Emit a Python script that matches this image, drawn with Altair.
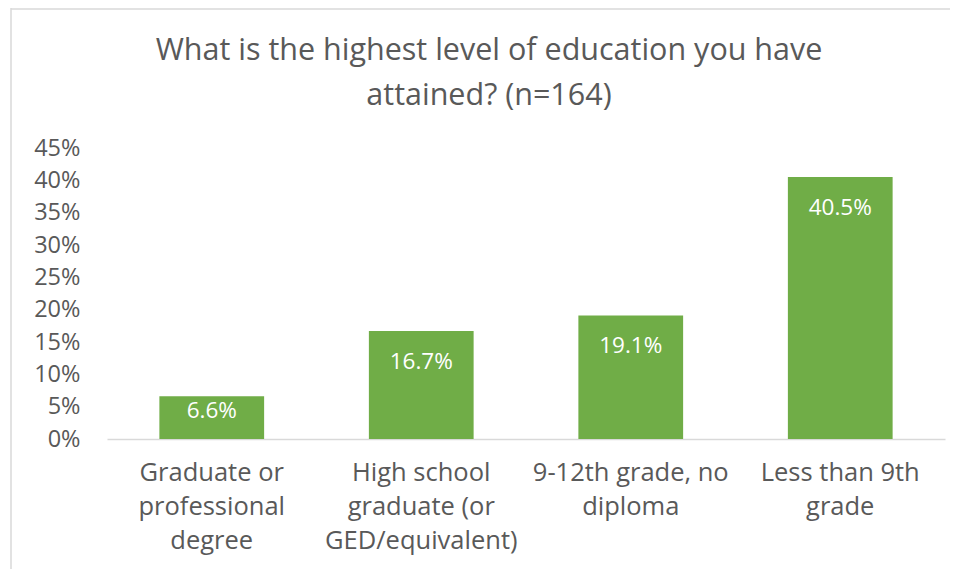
import altair as alt
import pandas as pd

categories = ["Graduate or\nprofessional\ndegree",
              "High school\ngraduate (or\nGED/equivalent)",
              "9-12th grade, no\ndiploma",
              "Less than 9th\ngrade"]
values = [0.066, 0.167, 0.191, 0.405]
y_ticks = [0, 0.05, 0.10, 0.15, 0.20, 0.25, 0.30, 0.35, 0.40, 0.45]
title_lines = ["What is the highest level of education you have", "attained? (n=164)"]

df = pd.DataFrame({"cat": categories, "v": values})
df["lbl"] = [f"{v*100:.1f}%" for v in values]

FONT = "Open Sans"
GRAY = "#595959"

x = alt.X("cat:N", sort=categories, title=None,
          scale=alt.Scale(paddingInner=0.5, paddingOuter=0.25),
          axis=alt.Axis(labelAngle=0, labelFont=FONT, labelFontSize=25.5, labelColor=GRAY,
                        labelExpr="split(datum.label, '\\n')", labelLineHeight=34,
                        labelPadding=21, ticks=False, domainColor="#D9D9D9", domainWidth=1.5,
                        labelLimit=0))
y = alt.Y("v:Q", title=None,
          scale=alt.Scale(domain=[0, 0.45], nice=False),
          axis=alt.Axis(values=y_ticks, format=".0%", grid=False, domain=False, ticks=False,
                        labelOverlap=False,
                        labelFont=FONT, labelFontSize=23.5, labelColor=GRAY, labelPadding=27))

bars = alt.Chart(df).mark_bar(color="#70AD47").encode(x=x, y=y)
labels_big = alt.Chart(df).transform_filter("datum.v >= 0.1").mark_text(
    font=FONT, fontSize=22.5, color="white", baseline="middle", dy=31).encode(
    x=alt.X("cat:N", sort=categories), y=y, text="lbl:N")
labels_small = alt.Chart(df).transform_filter("datum.v < 0.1").mark_text(
    font=FONT, fontSize=22.5, color="white", baseline="middle", dy=15).encode(
    x=alt.X("cat:N", sort=categories), y=y, text="lbl:N")

tdf = pd.DataFrame({"t": title_lines, "i": [0, 1]})
title1 = alt.Chart(tdf).transform_filter("datum.i == 0").mark_text(
    font=FONT, fontSize=30.5, color=GRAY, baseline="middle", align="center").encode(
    text="t:N", x=alt.value(382), y=alt.value(-97))
title2 = alt.Chart(tdf).transform_filter("datum.i == 1").mark_text(
    font=FONT, fontSize=30.5, color=GRAY, baseline="middle", align="center").encode(
    text="t:N", x=alt.value(382), y=alt.value(-52))

frame_left = alt.Chart(pd.DataFrame({"a": [0]})).mark_rule(color="#D9D9D9", strokeWidth=1.5).encode(
    x=alt.value(-96), y=alt.value(-140), y2=alt.value(440))
frame_top = alt.Chart(pd.DataFrame({"a": [0]})).mark_rule(color="#D9D9D9", strokeWidth=1.5).encode(
    x=alt.value(-96), x2=alt.value(845), y=alt.value(-139))

chart = alt.layer(frame_left, frame_top, bars, labels_big, labels_small, title1, title2).properties(
    width=838, height=291,
    autosize=alt.AutoSizeParams(type="none"),
    padding={"left": 99, "top": 140, "right": 5, "bottom": 130},
).configure_view(stroke=None).configure_axisY(labelOverlap=False)

chart.save("out.html", embed_options={"renderer": "svg", "actions": False})
